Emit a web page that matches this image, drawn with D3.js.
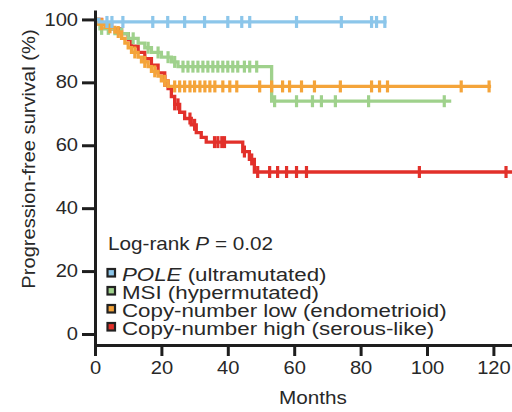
<!DOCTYPE html>
<html>
<head>
<meta charset="utf-8">
<script src="https://cdn.jsdelivr.net/npm/d3@7"></script>
<style>
  html, body { margin: 0; padding: 0; background: #fff; }
  svg { display: block; }
  text { font-family: "Liberation Sans", Arial, Helvetica, sans-serif; fill: #282828; }
</style>
</head>
<body>
<svg id="chart" width="512" height="412"></svg>
<script>
// ---- Data ----
const groupNames = ["POLE", "MSI", "Copy-number low", "Copy-number high"];
const groupLabels = ["(ultramutated)", "(hypermutated)", "(endometrioid)", "(serous-like)"];
const groupColors = ["#8cc6ea", "#9fd18c", "#f4a43a", "#e2302a"];

const xTicks = [0, 20, 40, 60, 80, 100, 120];
const yTicks = [0, 20, 40, 60, 80, 100];

// POLE (ultramutated)
const poleTimes = [0, 1.2];
const poleSurv = [100, 99.2];
const poleCensor = [3.6, 5.1, 8.4, 17.4, 21.9, 27, 33, 40, 44.2, 46.6, 60.7, 74.2, 83.3, 84.8, 87.3];
const poleEnd = 87.8;

// MSI (hypermutated)
const msiTimes = [0, 0.5, 1.5, 6, 10, 13, 15, 17, 20, 23, 25, 53.2];
const msiSurv = [100, 98.5, 97, 95.5, 94, 92.5, 91, 89.5, 88, 86.5, 85, 74];
const msiCensor = [2, 4, 8, 11.5, 16, 19, 22, 24, 26.5, 28, 29.5, 31, 32.5, 34, 35.5, 37, 38.5, 40, 41.5, 43, 45, 46.6, 48.7, 54.1, 60.7, 65.5, 68.2, 72.4, 82.4, 105.2];
const msiEnd = 107.3;

// Copy-number low (endometrioid)
const cnlTimes = [0, 1, 3, 6, 8, 9, 10, 11, 13, 14, 16, 17, 19, 20, 22];
const cnlSurv = [100, 98.5, 97.5, 96, 94, 92.5, 91, 89.5, 88, 86.5, 85, 83.5, 82, 80.5, 78.7];
const cnlCensor = [2, 4.5, 7, 12, 15, 18, 21, 24, 25.5, 27, 28.6, 30, 31.6, 33.1, 34.6, 36.1, 38.5, 40.6, 42.7, 49.6, 53.2, 56.5, 58.6, 62.2, 66.1, 73.9, 83.3, 85.7, 88.1, 110.3, 118.7];
const cnlEnd = 119.3;

// Copy-number high (serous-like)
const cnhTimes = [0, 2, 5, 8, 10, 11, 13, 15, 17, 19, 21, 22, 23, 24, 25.5, 27, 29, 30.5, 32, 33.5, 44.5, 46.5, 48];
const cnhSurv = [100, 98.5, 97, 95.5, 93.5, 91.5, 89.5, 87.5, 85.5, 83, 80.5, 78, 75.5, 73, 70.5, 68.5, 66.5, 64, 62.5, 61, 58, 55.5, 51.5];
const cnhCensor = [21, 24, 25, 28.6, 30, 36, 37, 38.2, 39, 45, 47.2, 49, 52.6, 55, 57.7, 60.7, 63.7, 97.7, 123.8];
const cnhEnd = 125.6;

const series = [
  { times: poleTimes, surv: poleSurv, censor: poleCensor, end: poleEnd, color: groupColors[0] },
  { times: msiTimes, surv: msiSurv, censor: msiCensor, end: msiEnd, color: groupColors[1] },
  { times: cnlTimes, surv: cnlSurv, censor: cnlCensor, end: cnlEnd, color: groupColors[2] },
  { times: cnhTimes, surv: cnhSurv, censor: cnhCensor, end: cnhEnd, color: groupColors[3] }
];
const drawOrder = [3, 1, 2, 0];

// ---- Layout ----
const svg = d3.select("#chart");
const SX = 1.15; // horizontal text stretch seen in the reference
const x = d3.scaleLinear().domain([0, 125.6]).range([95, 512]);
const y = d3.scaleLinear().domain([-3.5, 103]).range([345, 10]);
const axisColor = "#1e1e1e";

// Curves
const line = d3.line().x(d => x(d[0])).y(d => y(d[1])).curve(d3.curveStepAfter);
function survAt(s, t) {
  let v = s.surv[0];
  for (let i = 0; i < s.times.length; i++) if (s.times[i] <= t) v = s.surv[i];
  return v;
}
const curves = svg.append("g");
drawOrder.forEach(i => {
  const s = series[i];
  const pts = s.times.map((t, k) => [t, s.surv[k]]);
  pts.push([s.end, s.surv[s.surv.length - 1]]);
  const g = curves.append("g");
  g.append("path").attr("d", line(pts)).attr("fill", "none")
    .attr("stroke", s.color).attr("stroke-width", 3.3);
  g.selectAll("line").data(s.censor).join("line")
    .attr("x1", d => x(d)).attr("x2", d => x(d))
    .attr("y1", d => y(survAt(s, d)) - 6).attr("y2", d => y(survAt(s, d)) + 6)
    .attr("stroke", s.color).attr("stroke-width", 3.2);
});

// Axes
const yAxis = svg.append("g").attr("transform", `translate(${x(0)},0)`)
  .call(d3.axisLeft(y).tickValues(yTicks).tickSize(13).tickSizeOuter(0).tickPadding(4));
const xAxis = svg.append("g").attr("transform", `translate(0,${y(-3.5)})`)
  .call(d3.axisBottom(x).tickValues(xTicks).tickSize(11).tickSizeOuter(0).tickPadding(6));
[yAxis, xAxis].forEach(a => {
  a.select(".domain").attr("stroke", axisColor).attr("stroke-width", 3);
  a.selectAll(".tick line").attr("stroke", axisColor).attr("stroke-width", 3);
  a.selectAll(".tick text").style("font-size", "17.5px").attr("fill", "#282828");
});
yAxis.selectAll(".tick text").each(function () {
  d3.select(this).attr("x", -17 / SX).attr("transform", `scale(${SX},1)`);
});
xAxis.selectAll(".tick text").attr("y", 17).attr("x", 0).attr("transform", `scale(${SX},1)`);

// Axis titles
svg.append("text")
  .attr("transform", `translate(35,159) rotate(-90) scale(${SX},1)`)
  .attr("text-anchor", "middle").style("font-size", "17.5px")
  .text("Progression-free survival (%)");
svg.append("text")
  .attr("transform", `translate(313,404) scale(${SX},1)`)
  .attr("text-anchor", "middle").style("font-size", "18px")
  .text("Months");

// Legend
const leg = svg.append("g");
const lr = leg.append("text").attr("transform", `translate(108,250) scale(${SX},1)`).style("font-size", "18px");
lr.append("tspan").text("Log-rank ");
lr.append("tspan").style("font-style", "italic").text("P");
lr.append("tspan").text(" = 0.02");
const rowBase = [281, 299, 317, 335];
groupNames.forEach((name, i) => {
  leg.append("rect").attr("x", 107.5).attr("y", rowBase[i] - 12).attr("width", 7.5).attr("height", 7.5)
    .attr("fill", groupColors[i]).attr("stroke", "#222").attr("stroke-width", 2.2);
  const t = leg.append("text").attr("transform", `translate(122,${rowBase[i]}) scale(${SX * 1.06},1)`).style("font-size", "18.3px");
  t.append("tspan").style("font-style", i === 0 ? "italic" : "normal").text(name);
  t.append("tspan").text(" " + groupLabels[i]);
});
</script>
</body>
</html>
